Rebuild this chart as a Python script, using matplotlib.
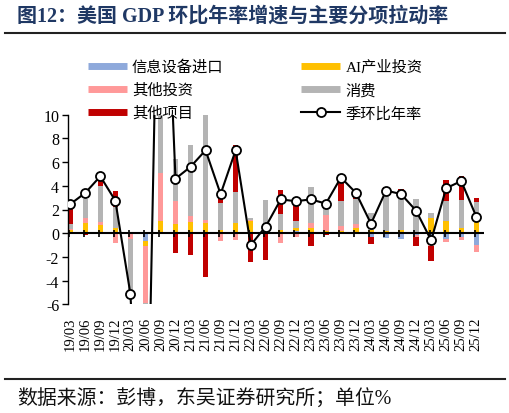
import matplotlib
matplotlib.use('Agg')
import matplotlib.pyplot as plt
from matplotlib.lines import Line2D
import numpy as np

quarters = ['19/03', '19/06', '19/09', '19/12', '20/03', '20/06', '20/09', '20/12',
            '21/03', '21/06', '21/09', '21/12', '22/03', '22/06', '22/09', '22/12',
            '23/03', '23/06', '23/09', '23/12', '24/03', '24/06', '24/09', '24/12',
            '25/03', '25/06', '25/09', '25/12']

info_imports = [0.0, 0.0, 0.1, 0.0, 0.1, -0.7, 0.0, 0.0,
                0.0, 0.0, 0.0, 0.0, 0.0, 0.0, 0.0, 0.2,
                0.0, 0.0, 0.0, 0.0, -0.34, -0.42, -0.48, -0.15,
                -0.6, -0.5, -0.28, -0.97]
ai_invest = [0.3, 0.85, 0.55, 0.42, -0.1, -0.35, 1.0, 0.75,
             0.93, 0.85, 0.28, 0.9, 1.0, 0.0, 0.28, 0.22,
             0.48, 0.2, 0.22, 0.48, 0.28, 0.17, 0.28, 0.1,
             1.27, 1.0, 0.44, 1.04]
other_invest = [0.05, 0.42, 0.28, -0.85, -0.35, -4.85, 4.1, 1.95,
                0.48, 0.28, -0.65, -0.56, 0.14, 0.0, -0.85, -0.34,
                0.42, 1.35, 0.4, 0.28, 0.0, 0.0, 0.0, -0.15,
                -0.45, -0.27, -0.27, -0.65]
consumption = [0.45, 1.65, 3.07, 1.83, -4.8, -24.0, 25.0, 3.6,
               6.05, 9.8, 2.26, 2.56, 0.13, 2.82, 1.32, 0.62,
               2.96, 0.62, 2.11, 2.11, 1.42, 3.49, 3.24, 2.77,
               0.43, 1.7, 2.33, 1.56]
other_items = [1.35, -0.15, 0.42, 1.32, 0.0, 0.0, 5.1, -1.7,
               -1.85, -3.66, 0.42, 4.0, -2.4, -2.3, 2.06, 1.41,
               -1.04, -0.15, 1.72, 0.23, -0.6, 0.28, 0.21, -0.75,
               -1.3, 1.8, 2.09, 0.33]
gdp_qoq = [2.45, 3.4, 4.8, 2.75, -5.1, -28.0, 35.2, 4.6,
           5.6, 7.0, 3.3, 7.0, -1.0, 0.56, 2.85, 2.7,
           2.85, 2.5, 4.7, 3.4, 0.8, 3.6, 3.3, 1.9,
           -0.6, 3.8, 4.4, 1.4]

series_names = ['信息设备进口', 'AI产业投资', '其他投资', '消费', '其他项目']
series_values = [info_imports, ai_invest, other_invest, consumption, other_items]
series_colors = ['#8EA9DB', '#FFC000', '#FF9999', '#B4B4B4', '#C00000']
line_name = '季环比年率'

plt.rcParams['font.family'] = ['Liberation Serif', 'Noto Sans CJK SC']
plt.rcParams['axes.unicode_minus'] = False

W, H = 510, 414
fig = plt.figure(figsize=(W / 100, H / 100), dpi=100)
ax = fig.add_axes([67.5 / W, 1 - 305.3 / H, 416.3 / W, 189.6 / H])

x = np.arange(len(quarters))
pos_bottom = np.zeros(len(x))
neg_bottom = np.zeros(len(x))
for vals, col in zip(series_values, series_colors):
    v = np.array(vals, dtype=float)
    b = np.where(v >= 0, pos_bottom, neg_bottom)
    ax.bar(x, v, bottom=b, width=0.36, color=col, zorder=2, linewidth=0)
    pos_bottom += np.where(v > 0, v, 0)
    neg_bottom += np.where(v < 0, v, 0)

ax.axhline(0, color='black', lw=1.5, zorder=3)
ax.vlines(x - 0.11, -0.3, 0.3, color='black', lw=1.2, zorder=3)
line, = ax.plot(x, gdp_qoq, color='black', lw=1.5, marker='o', ms=6.5,
                mfc='white', mec='black', mew=1.3, zorder=4)

ax.set_xlim(-0.18, 27.5)
ax.set_ylim(-6, 10)
ax.set_yticks(range(-6, 11, 2))
ax.set_xticks(x)
ax.set_xticklabels(quarters, rotation=90, fontsize=10.5)
ax.tick_params(axis='x', length=0, pad=9)
ax.tick_params(axis='y', length=4, width=1, direction='out', pad=2, labelsize=11.5)
for s in ['top', 'right', 'bottom']:
    ax.spines[s].set_visible(False)
ax.spines['left'].set_linewidth(1)

handles = [Line2D([], [], color=c, lw=5, solid_capstyle='butt') for c in series_colors]
handles.append(line)
labels = series_names + [line_name]
order = [0, 2, 4, 1, 3, 5]
fig.legend([handles[i] for i in order], [labels[i] for i in order],
           loc='upper left', bbox_to_anchor=(88 / W, 1 - 60.5 / H), ncol=2,
           frameon=False, fontsize=11, handlelength=2.55, handletextpad=0.33,
           columnspacing=5.1, labelspacing=0.57, borderpad=0, borderaxespad=0)

fig.text(17 / W, 1 - 17 / H, '图12：美国 GDP 环比年率增速与主要分项拉动率',
         fontsize=14.4, fontweight='bold', color='#1F3864', va='center')
fig.add_artist(Line2D([5 / W, 505 / W], [1 - 34 / H] * 2, color='#222222', lw=1.5))
fig.add_artist(Line2D([5 / W, 505 / W], [1 - 380 / H] * 2, color='#222222', lw=1.5))
fig.text(17 / W, 1 - 399 / H, '数据来源：彭博，东吴证券研究所；单位%',
         fontsize=14.3, va='center', color='#111111')

fig.savefig('out.png', dpi=100)
